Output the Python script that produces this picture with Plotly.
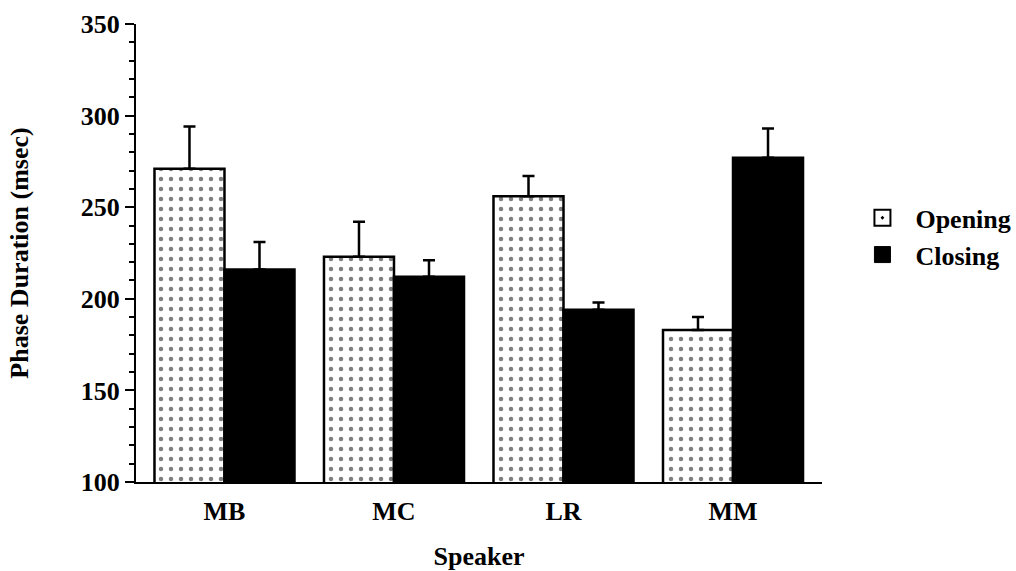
import plotly.graph_objects as go

speakers = ["MB", "MC", "LR", "MM"]
opening = [271, 223, 256, 183]
opening_err = [23, 19, 11, 7]
closing = [216, 212, 194, 277]
closing_err = [15, 9, 4, 16]
series_names = ["Opening", "Closing"]

font_family = "Liberation Serif"
FS = 26

fig = go.Figure()
fig.add_trace(go.Bar(
    x=speakers, y=opening, name=series_names[0], showlegend=False,
    marker=dict(color="white", line=dict(color="black", width=2.5),
                pattern=dict(shape=".", fgcolor="black", bgcolor="white", size=10, solidity=0.16)),
    error_y=dict(type="data", array=opening_err, arrayminus=[0]*4, symmetric=False,
                 color="black", thickness=2.5, width=6),
))
fig.add_trace(go.Bar(
    x=speakers, y=closing, name=series_names[1], showlegend=False,
    marker=dict(color="black", line=dict(color="black", width=2.5)),
    error_y=dict(type="data", array=closing_err, arrayminus=[0]*4, symmetric=False,
                 color="black", thickness=2.5, width=6),
))
# legend entries
fig.add_trace(go.Scatter(
    x=[None], y=[None], mode="markers", name="<b>" + series_names[0] + "</b>",
    marker=dict(symbol="square-dot", size=17, color="white", line=dict(color="black", width=2)),
))
fig.add_trace(go.Scatter(
    x=[None], y=[None], mode="markers", name="<b>" + series_names[1] + "</b>",
    marker=dict(symbol="square", size=18, color="black", line=dict(color="black", width=1)),
))

fig.update_layout(
    width=1016, height=571,
    margin=dict(l=136, r=194, t=24, b=89, autoexpand=False),
    plot_bgcolor="white", paper_bgcolor="white",
    barmode="group", bargap=0.174, bargroupgap=0,
    font=dict(family=font_family, size=FS, color="black"),
    showlegend=True,
    legend=dict(x=1.040, y=0.628, xanchor="left", yanchor="top",
                font=dict(size=FS, family=font_family), bgcolor="rgba(0,0,0,0)",
                itemsizing="trace", itemwidth=56, tracegroupgap=0),
    xaxis=dict(
        range=[-0.522, 3.525], showline=True, linecolor="black", linewidth=2,
        ticks="", ticklabelstandoff=5, showgrid=False, zeroline=False, automargin=False,
        tickfont=dict(size=FS, family=font_family, weight="bold"),
        title=dict(text="<b>Speaker</b>", standoff=23, font=dict(size=FS)),
    ),
    yaxis=dict(
        range=[100, 350], showline=True, linecolor="black", linewidth=2,
        tickmode="linear", tick0=100, dtick=50,
        ticks="outside", ticklen=9, tickwidth=2, tickcolor="black",
        minor=dict(dtick=10, ticks="outside", ticklen=5, tickwidth=2, tickcolor="black", showgrid=False),
        showgrid=False, zeroline=False, automargin=False,
        tickfont=dict(size=FS, family=font_family, weight="bold"),
        title=dict(text="<b>Phase Duration (msec)</b>", standoff=45, font=dict(size=FS)),
    ),
)

fig.write_html("out.html", config={"displayModeBar": False},
               post_script="document.body.style.margin='0';document.body.style.overflow='hidden';")
